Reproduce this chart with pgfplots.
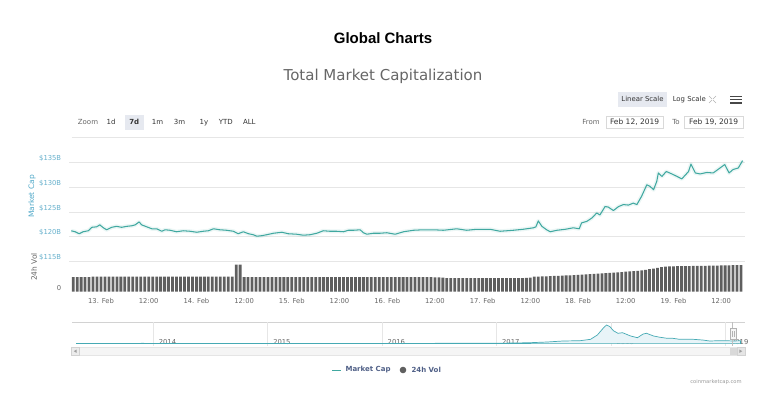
\documentclass[border=0pt]{standalone}
\usepackage{pgfplots}
\pgfplotsset{compat=1.18}
\usepackage{fontspec}
\setmainfont{DejaVu Sans}
\newfontfamily\helv{Liberation Sans}
\definecolor{mcline}{RGB}{64,168,160}
\definecolor{ylab}{RGB}{102,176,204}
\definecolor{mctitle}{RGB}{80,168,200}
\definecolor{gridc}{RGB}{230,230,230}
\definecolor{volc}{RGB}{95,95,95}
\definecolor{txtg}{RGB}{102,102,102}
\definecolor{txt3}{RGB}{51,51,51}
\definecolor{legc}{RGB}{80,96,135}
\definecolor{navfill}{RGB}{232,244,248}
\definecolor{navline}{RGB}{70,170,180}
\definecolor{btnbg}{RGB}{230,233,240}
\begin{document}
\begin{tikzpicture}[x=1pt,y=1pt]
\useasboundingbox (0,0) rectangle (757,-395);
% titles
\node[font=\helv\bfseries\fontsize{15}{18}\selectfont, text=black] at (383,-38) {Global Charts};
\node[font=\fontsize{15}{18}\selectfont, text=txtg] at (383,-76) {Total Market Capitalization};
% scale buttons
\fill[btnbg] (618,-92.5) rectangle (667,-107);
\begin{scope}[every node/.style={font=\fontsize{6.9}{8}\selectfont, text=txt3, text height=5.2pt, text depth=1.4pt, inner sep=1pt}]
\node at (642.5,-99.8) {Linear Scale};
\node at (689.3,-99.8) {Log Scale};
\end{scope}
\begin{scope}[draw=gray!60, line width=0.6pt]
\draw (709,-96)--(712,-99); \draw (716,-96)--(713,-99);
\draw (709,-103)--(712,-100); \draw (716,-103)--(713,-100);
\end{scope}
\begin{scope}[draw=txt3!90, line width=1.3pt]
\draw (730,-96.7)--(742,-96.7); \draw (730,-99.8)--(742,-99.8); \draw (730,-102.9)--(742,-102.9);
\end{scope}
% zoom row
\fill[btnbg] (124.5,-115.5) rectangle (144,-130);
\begin{scope}[every node/.style={font=\fontsize{7}{8}\selectfont, text=txt3, text height=5.3pt, text depth=1.5pt, inner sep=1pt}]
\node[text=txtg] at (88,-122.7) {Zoom};
\node at (111,-122.7) {1d};
\node[font=\fontsize{7}{8}\selectfont\bfseries] at (134.3,-122.7) {7d};
\node at (157.5,-122.7) {1m};
\node at (179.5,-122.7) {3m};
\node at (204,-122.7) {1y};
\node at (225.8,-122.7) {YTD};
\node at (249.3,-122.7) {ALL};
\node[text=txtg] at (591,-122.7) {From};
\node[text=txtg] at (676,-122.7) {To};
\node[font=\fontsize{7.5}{8}\selectfont] at (634.6,-122.6) {Feb 12, 2019};
\node[font=\fontsize{7.5}{8}\selectfont] at (713.7,-122.6) {Feb 19, 2019};
\end{scope}
\draw[gray!30, line width=0.5pt] (606,-116.7) rectangle (663.3,-128.5);
\draw[gray!30, line width=0.5pt] (684,-116.7) rectangle (743.3,-128.5);
\draw[gridc, line width=0.8pt] (71.7,-137.3) -- (743.5,-137.3);
% axis titles
\node[rotate=90, font=\fontsize{7.5}{8}\selectfont, text=mctitle] at (32,-196.5) {Market Cap};
\node[rotate=90, font=\fontsize{7.5}{8}\selectfont, text=txtg] at (34,-267) {24h Vol};

% main market cap axis
\begin{axis}[at={(69.2pt,-261.4pt)}, anchor=south west, scale only axis,
  width=675.8pt, height=108.7pt,
  xmin=-8, xmax=162, ymin=115, ymax=137,
  axis line style={draw=none}, major tick length=0pt,
  xtick=\empty,
  ytick={120,125,130,135}, yticklabels={\$120B,\$125B,\$130B,\$135B},
  extra y ticks={115}, extra y tick labels={\$115B},
  extra y tick style={grid style={gridc, line width=1.6pt}},
  ymajorgrids, grid style={gridc, line width=0.5pt},
  yticklabel style={font=\fontsize{6.8}{8}\selectfont, text=ylab, xshift=-4.5pt, yshift=4pt},
  clip=false]
\addplot[mcline, line width=1.05pt, line join=round,
  preaction={draw, mcline, opacity=0.10, line width=4pt}] coordinates {
(-7.5,121.2) (-6.5,121.0) (-5.5,120.6) (-4.5,121.0) (-3.2,121.2) (-2.3,121.9) (-1.1,122.0) (-0.3,122.4) (0.6,121.8) (1.4,121.4) (2.7,121.9) (3.9,122.1) (5.2,121.9) (6.5,122.1) (7.7,122.2) (8.6,122.4) (9.6,123.0) (10.2,122.4) (11.5,122.0) (12.8,121.6) (14.0,121.6) (15.3,121.1) (16.1,121.4) (17.4,121.3) (19.0,121.0) (20.7,121.2) (22.4,121.1) (24.1,120.9) (25.7,121.1) (27.0,121.2) (28.3,121.6) (29.9,121.4) (31.6,121.3) (33.3,121.1) (34.5,120.6) (35.8,121.0) (37.1,120.6) (38.3,120.4) (39.2,120.1) (40.4,120.2) (41.7,120.4) (43.4,120.7) (45.5,120.9) (47.1,120.6) (49.2,120.5) (50.9,120.3) (52.6,120.4) (54.3,120.7) (55.9,121.2) (57.6,121.1) (59.3,121.1) (61.0,121.0) (62.2,121.3) (63.5,121.3) (65.2,121.4) (66.0,120.8) (66.9,120.5) (68.5,120.7) (70.2,120.7) (71.9,120.8) (74.0,120.5) (76.1,121.0) (78.6,121.3) (81.1,121.4) (83.6,121.4) (86.1,121.3) (89.5,121.6) (92.0,121.3) (94.5,121.5) (97.9,121.5) (100.4,121.1) (103.7,121.3) (106.2,121.5) (108.8,121.8) (109.4,122.0) (110.0,123.2) (110.9,122.1) (112.1,121.4) (113.0,121.0) (114.7,121.3) (116.8,121.5) (118.8,121.8) (120.3,121.6) (120.9,122.8) (122.2,123.1) (123.5,123.8) (124.7,124.8) (125.5,124.4) (126.8,126.1) (127.6,126.0) (128.9,125.3) (130.2,126.1) (131.4,126.5) (132.7,126.4) (133.9,126.8) (134.8,126.5) (136.0,128.2) (137.3,130.5) (138.1,130.2) (139.0,129.5) (139.8,131.2) (140.2,132.9) (141.1,132.2) (142.2,133.2) (143.6,132.7) (144.9,132.2) (146.1,131.7) (146.9,132.4) (147.8,133.2) (148.4,134.7) (149.5,132.9) (150.7,132.7) (152.4,133.0) (154.0,132.9) (155.7,133.9) (156.9,134.6) (158.0,132.9) (159.0,133.6) (160.3,133.9) (161.4,135.4)
};
\end{axis}

% volume axis
\begin{axis}[at={(69.2pt,-291.7pt)}, anchor=south west, scale only axis,
  width=675.8pt, height=30.3pt,
  xmin=-8, xmax=162, ymin=0, ymax=36.4,
  axis line style={draw=none}, major tick length=0pt,
  ytick={0}, yticklabels={0},
  yticklabel style={font=\fontsize{6.8}{8}\selectfont, text=txtg, xshift=-4.5pt, yshift=3.5pt},
  xtick={0,12,24,36,48,60,72,84,96,108,120,132,144,156},
  xticklabels={13. Feb,12:00,14. Feb,12:00,15. Feb,12:00,16. Feb,12:00,17. Feb,12:00,18. Feb,12:00,19. Feb,12:00},
  xticklabel style={font=\fontsize{6.8}{8}\selectfont, text=txtg, yshift=-3pt},
  ybar, bar width=0.7, clip=false]
\addplot[fill=volc, draw=none] coordinates {
(-7,17.5) (-6,17.5) (-5,17.4) (-4,17.5) (-3,17.6)
(-2,18) (-1,18) (0,18.1) (1,18) (2,18) (3,18.1) (4,18) (5,18) (6,18) (7,18.1) (8,18) (9,18) (10,18) (11,18.1) (12,18) (13,18) (14,18) (15,18.1) (16,18) (17,18) (18,18) (19,18) (20,18.1) (21,18) (22,18) (23,18) (24,18.1) (25,18) (26,18) (27,18) (28,18) (29,18.1) (30,18) (31,18) (32,18) (33,18)
(34,32.5) (35,32.5)
(36,17.6) (37,17.6) (38,17.6) (39,17.6) (40,17.6) (41,17.6) (42,17.6) (43,17.6) (44,17.6) (45,17.6) (46,17.6) (47,17.6) (48,17.6) (49,17.6) (50,17.6) (51,17.6) (52,17.6) (53,17.5) (54,17.5) (55,17.5) (56,17.5) (57,17.5) (58,17.5) (59,17.5) (60,17.5) (61,17.5) (62,17.5) (63,17.5) (64,17.5) (65,17.5) (66,17.5) (67,17.5) (68,17.5) (69,17.5) (70,17.5) (71,17.5) (72,17.5) (73,17.5) (74,17.5) (75,17.5) (76,17.5) (77,17.5) (78,17.5) (79,17.5) (80,17.5) (81,17.5) (82,17.5) (83,17.4) (84,17.3) (85,17.2) (86,17.0)
(87,16.2) (88,16.2) (89,16.2) (90,16.2) (91,16.2) (92,16.2) (93,16.2) (94,16.2) (95,16.2) (96,16.2) (97,16.2) (98,16.2) (99,16.2) (100,16.2) (101,16.2) (102,16.2) (103,16.2) (104,16.2) (105,16.3) (106,16.4) (107,16.6) (108,17.0)
(109,18) (110,18.2) (111,18.4) (112,18.5) (113,18.7) (114,18.9) (115,19.1) (116,19.3) (117,19.5) (118,19.7) (119,19.9) (120,20.1)
(121,20.5) (122,20.8) (123,21.1) (124,21.4) (125,21.7) (126,22) (127,22.3) (128,22.6)
(129,23) (130,23.3) (131,23.6) (132,24) (133,24.3) (134,24.6) (135,25)
(136,25.6) (137,26.3) (138,27) (139,27.8) (140,28.6)
(141,29.4) (142,30) (143,30.3) (144,30.5) (145,30.6) (146,30.7) (147,30.8) (148,30.8) (149,30.9) (150,31) (151,31) (152,31.1) (153,31.2) (154,31.3) (155,31.4) (156,31.5) (157,31.6) (158,31.7) (159,31.8) (160,31.9) (161,32)
};
\end{axis}

% navigator
\draw[gray!35, line width=0.6pt] (72,-322.3) -- (745,-322.3);
\begin{axis}[at={(72pt,-346pt)}, anchor=south west, scale only axis,
  width=673pt, height=23.7pt,
  xmin=2013.29, xmax=2019.17, ymin=-107, ymax=950,
  axis line style={draw=none}, major tick length=0pt,
  ytick=\empty,
  xtick={2014,2015,2016,2017,2018,2019},
  xticklabels={2014,2015,2016,2017,2018,2019},
  xmajorgrids, grid style={gridc, line width=0.6pt},
  xticklabel style={font=\fontsize{6.8}{8}\selectfont, text=txtg, anchor=west, xshift=2pt, yshift=4.3pt},
  clip=false]
\addplot[draw=navline, line width=0.7pt, fill=navfill] coordinates {
(2013.33,1.5) (2013.5,1.2) (2013.8,2) (2013.9,12) (2013.95,10) (2014.1,9) (2014.3,6) (2014.5,8) (2014.8,5) (2015.0,4) (2015.3,3.5) (2015.6,4) (2015.9,6) (2016.0,7) (2016.3,8) (2016.5,12) (2016.8,12) (2017.0,17) (2017.14,25) (2017.29,40) (2017.44,71) (2017.58,116) (2017.73,130) (2017.82,190) (2017.88,384) (2017.93,680) (2017.96,830) (2017.99,755) (2018.02,576) (2018.06,460) (2018.10,486) (2018.17,340) (2018.23,263) (2018.28,428) (2018.31,460) (2018.37,340) (2018.43,280) (2018.49,236) (2018.54,236) (2018.60,190) (2018.72,190) (2018.80,160) (2018.86,116) (2018.95,130) (2019.01,130) (2019.06,116) (2019.13,125)
} \closedcycle;
\end{axis}
% selection handle
\draw[gray!50, line width=0.6pt] (732.7,-322.3) -- (732.7,-346);
\filldraw[fill=gray!8, draw=gray!60, line width=0.5pt] (730,-328.5) rectangle (736,-339.5);
\draw[gray!60, line width=0.4pt] (732.2,-331) -- (732.2,-337) (733.8,-331) -- (733.8,-337);
% scrollbar
\filldraw[fill=gray!8, draw=gray!20, line width=0.4pt] (71,-347.5) rectangle (745,-355);
\filldraw[fill=gray!15, draw=gray!35, line width=0.4pt] (71,-347.5) rectangle (79.5,-355);
\fill[gray!75] (73.8,-351.2) -- (76.6,-349.5) -- (76.6,-352.9) -- cycle;
\fill[gray!30] (730,-347.5) rectangle (737,-355);
\filldraw[fill=gray!20, draw=gray!35, line width=0.4pt] (737,-347.5) rectangle (745,-355);
\fill[gray!75] (742.2,-351.2) -- (739.4,-349.5) -- (739.4,-352.9) -- cycle;
% legend
\draw[mcline, line width=1pt] (332,-370) -- (341,-370);
\node[font=\fontsize{7}{8}\selectfont\bfseries, text=legc, anchor=west] at (342,-370) {Market Cap};
\fill[gray!75!black] (403,-370) circle (3.3);
\node[font=\fontsize{7}{8}\selectfont\bfseries, text=legc, anchor=west] at (408,-370) {24h Vol};
\node[font=\fontsize{5.2}{6}\selectfont, text=gray!80] at (716,-381.7) {coinmarketcap.com};
\end{tikzpicture}
\end{document}
